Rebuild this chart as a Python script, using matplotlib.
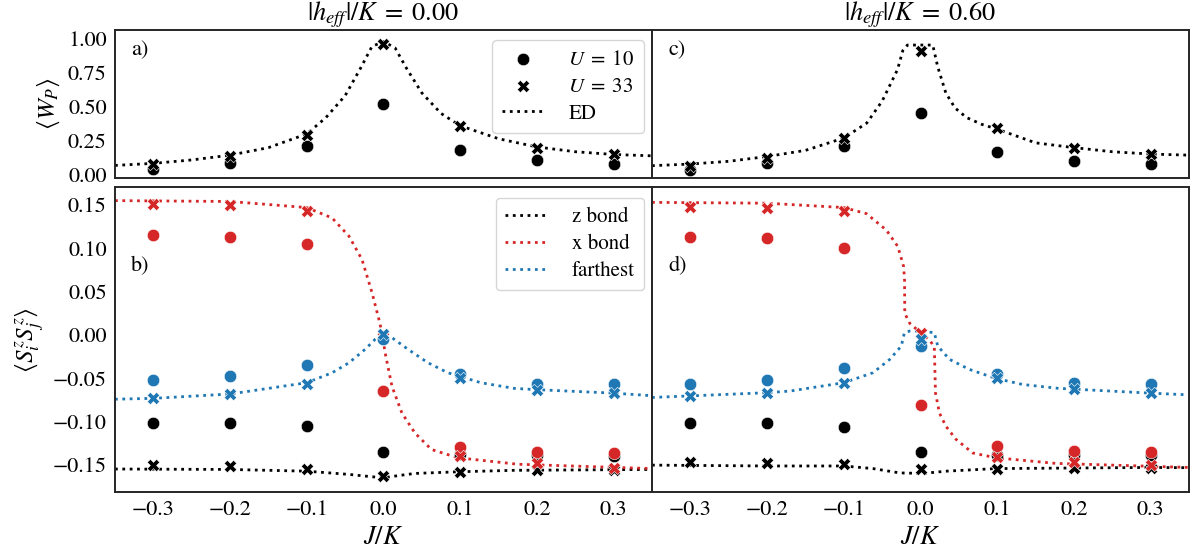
import numpy as np
import matplotlib
matplotlib.use("Agg")
import matplotlib.pyplot as plt

plt.rcParams['font.family'] = ['STIXGeneral', 'DejaVu Serif']
plt.rcParams['mathtext.fontset'] = 'stix'

# x positions of the simulated points
J = [-0.3, -0.2, -0.1, 0.0, 0.1, 0.2, 0.3]

# ---- panel a) / c): plaquette flux <W_P>
wp_u10_left = [0.044, 0.09, 0.21, 0.52, 0.18, 0.11, 0.08]
wp_u33_left = [0.08, 0.14, 0.29, 0.96, 0.36, 0.20, 0.15]
ed_wp_left_x = [-0.35, -0.30, -0.25, -0.20, -0.15, -0.10, -0.075, -0.05, -0.03, -0.015, 0.0,
                0.015, 0.03, 0.05, 0.075, 0.10, 0.15, 0.20, 0.25, 0.30, 0.35]
ed_wp_left_y = [0.07, 0.085, 0.11, 0.145, 0.20, 0.30, 0.42, 0.58, 0.78, 0.94, 0.975,
                0.93, 0.78, 0.60, 0.45, 0.36, 0.265, 0.205, 0.17, 0.15, 0.14]

wp_u10_right = [0.04, 0.085, 0.21, 0.455, 0.17, 0.10, 0.078]
wp_u33_right = [0.068, 0.126, 0.27, 0.91, 0.34, 0.20, 0.153]
ed_wp_right_x = [-0.35, -0.30, -0.25, -0.20, -0.15, -0.10, -0.07, -0.05, -0.03, -0.023, -0.017, 0.0,
                 0.016, 0.0225, 0.033, 0.045, 0.06, 0.08, 0.10, 0.15, 0.20, 0.25, 0.30, 0.35]
ed_wp_right_y = [0.068, 0.08, 0.10, 0.135, 0.18, 0.27, 0.38, 0.54, 0.77, 0.91, 0.95, 0.95,
                 0.95, 0.79, 0.60, 0.49, 0.42, 0.37, 0.335, 0.235, 0.20, 0.17, 0.153, 0.145]

# ---- panel b): correlations, |h_eff|/K = 0
z_u10_b = [-0.101, -0.101, -0.105, -0.135, -0.137, -0.138, -0.140]
z_u33_b = [-0.150, -0.151, -0.154, -0.162, -0.158, -0.156, -0.156]
x_u10_b = [0.115, 0.113, 0.105, -0.065, -0.129, -0.135, -0.136]
x_u33_b = [0.151, 0.150, 0.143, -0.002, -0.140, -0.148, -0.153]
f_u10_b = [-0.052, -0.047, -0.035, -0.005, -0.045, -0.056, -0.057]
f_u33_b = [-0.073, -0.068, -0.056, 0.001, -0.050, -0.063, -0.067]

ed_z_b_x = [-0.35, -0.2, -0.1, -0.045, -0.02, 0.0, 0.02, 0.041, 0.097, 0.17, 0.35]
ed_z_b_y = [-0.1545, -0.155, -0.157, -0.1607, -0.163, -0.1646, -0.162, -0.1596, -0.1577, -0.156, -0.155]
ed_x_b_x = [-0.35, -0.2, -0.1, -0.067, -0.045, -0.028, -0.015, -0.006, -0.002, 0.002, 0.011,
            0.024, 0.041, 0.0625, 0.097, 0.175, 0.35]
ed_x_b_y = [0.155, 0.154, 0.147, 0.135, 0.114, 0.087, 0.049, 0.018, 0.003, -0.020, -0.059,
            -0.090, -0.113, -0.132, -0.1415, -0.149, -0.154]
ed_f_b_x = [-0.35, -0.3, -0.2, -0.1, -0.067, -0.045, -0.024, -0.011, 0.0, 0.011, 0.032,
            0.058, 0.084, 0.127, 0.17, 0.2, 0.3, 0.35]
ed_f_b_y = [-0.074, -0.073, -0.068, -0.055, -0.0435, -0.032, -0.0165, -0.005, 0.001, -0.003, -0.0165,
            -0.032, -0.0435, -0.055, -0.0615, -0.063, -0.067, -0.070]

# ---- panel d): correlations, |h_eff|/K = 0.6
z_u10_d = [-0.102, -0.102, -0.106, -0.1346, -0.138, -0.138, -0.138]
z_u33_d = [-0.146, -0.147, -0.149, -0.154, -0.154, -0.153, -0.153]
x_u10_d = [0.113, 0.1115, 0.1007, -0.081, -0.128, -0.1335, -0.1346]
x_u33_d = [0.148, 0.147, 0.143, 0.002, -0.141, -0.146, -0.150]
f_u10_d = [-0.0565, -0.052, -0.0385, -0.0127, -0.0453, -0.055, -0.0565]
f_u33_d = [-0.0704, -0.067, -0.055, -0.005, -0.050, -0.0627, -0.067]

ed_z_d_x = [-0.35, -0.2, -0.1, -0.062, -0.027, 0.003, 0.033, 0.098, 0.3, 0.35]
ed_z_d_y = [-0.150, -0.151, -0.151, -0.154, -0.159, -0.1596, -0.157, -0.154, -0.1527, -0.153]
ed_x_d_x = [-0.35, -0.2, -0.1, -0.0705, -0.0445, -0.0295, -0.022, -0.0208, -0.0205, -0.014, 0.001,
            0.012, 0.018, 0.0195, 0.0247, 0.033, 0.046, 0.068, 0.098, 0.176, 0.35]
ed_x_d_y = [0.153, 0.152, 0.147, 0.140, 0.121, 0.102, 0.079, 0.063, 0.025, 0.0135, 0.002,
            -0.006, -0.0135, -0.0665, -0.090, -0.105, -0.120, -0.136, -0.1415, -0.148, -0.1527]
ed_f_d_x = [-0.35, -0.2, -0.17, -0.1, -0.062, -0.040, -0.025, -0.021, -0.014, 0.0, 0.018,
            0.0225, 0.0377, 0.0636, 0.098, 0.133, 0.18, 0.3, 0.35]
ed_f_d_y = [-0.072, -0.0665, -0.0646, -0.055, -0.0435, -0.028, -0.0127, 0.0027, 0.0046, 0.0046, 0.0027,
            -0.0127, -0.028, -0.0396, -0.050, -0.057, -0.0615, -0.067, -0.069]

titles = [r'$|h_{eff}|/K\;=\;0.00$', r'$|h_{eff}|/K\;=\;0.60$']
red = '#d62728'
blue = '#1f77b4'

fig = plt.figure(figsize=(11.92, 5.59), dpi=100)
W, H = 1192.0, 559.0


def rect(x0, y0, x1, y1):
    # pixel box -> figure fraction
    return [x0 / W, 1 - y1 / H, (x1 - x0) / W, (y1 - y0) / H]


ax_a = fig.add_axes(rect(115, 30, 652, 178))
ax_c = fig.add_axes(rect(652, 30, 1189, 178))
ax_b = fig.add_axes(rect(115, 187, 652, 492))
ax_d = fig.add_axes(rect(652, 187, 1189, 492))


def points(ax, y10, y33, c):
    ax.scatter(J, y10, s=80, marker='o', color=c, edgecolors='white', linewidths=0.4, zorder=3)
    ax.scatter(J, y33, s=80, marker='X', color=c, edgecolors='white', linewidths=0.4, zorder=3)


# top row
for ax, u10, u33, ex, ey in [(ax_a, wp_u10_left, wp_u33_left, ed_wp_left_x, ed_wp_left_y),
                             (ax_c, wp_u10_right, wp_u33_right, ed_wp_right_x, ed_wp_right_y)]:
    ax.scatter(J, u10, s=80, marker='o', color='black', edgecolors='white', linewidths=0.4,
               zorder=3, label=r'$U\;=\;10$')
    ax.scatter(J, u33, s=80, marker='X', color='black', edgecolors='white', linewidths=0.4,
               zorder=3, label=r'$U\;=\;33$')
    ax.plot(ex, ey, ':', color='black', lw=2, label='ED')
    ax.set_ylim(-0.022, 1.06)

# bottom row
for ax, data in [(ax_b, [(z_u10_b, z_u33_b, ed_z_b_x, ed_z_b_y, 'black', 'z bond'),
                         (x_u10_b, x_u33_b, ed_x_b_x, ed_x_b_y, red, 'x bond'),
                         (f_u10_b, f_u33_b, ed_f_b_x, ed_f_b_y, blue, 'farthest')]),
                 (ax_d, [(z_u10_d, z_u33_d, ed_z_d_x, ed_z_d_y, 'black', 'z bond'),
                         (x_u10_d, x_u33_d, ed_x_d_x, ed_x_d_y, red, 'x bond'),
                         (f_u10_d, f_u33_d, ed_f_d_x, ed_f_d_y, blue, 'farthest')])]:
    for y10, y33, ex, ey, c, lab in data:
        points(ax, y10, y33, c)
        ax.plot(ex, ey, ':', color=c, lw=2, label=lab)
    ax.set_ylim(-0.181, 0.1707)


def fmt(nd):
    return plt.FuncFormatter(lambda v, p: ('%.*f' % (nd, v)).replace('-', '\u2212'))


for ax in [ax_a, ax_b, ax_c, ax_d]:
    ax.set_xlim(-0.35, 0.35)
    ax.set_xticks([-0.3, -0.2, -0.1, 0.0, 0.1, 0.2, 0.3])
    ax.tick_params(length=0, labelsize=16, pad=6)
    for s in ax.spines.values():
        s.set_linewidth(1.4)
        s.set_color('0.15')

ax_a.set_yticks([0.0, 0.25, 0.5, 0.75, 1.0])
ax_c.set_yticks([0.0, 0.25, 0.5, 0.75, 1.0])
ax_b.set_yticks([-0.15, -0.10, -0.05, 0.0, 0.05, 0.10, 0.15])
ax_d.set_yticks([-0.15, -0.10, -0.05, 0.0, 0.05, 0.10, 0.15])
ax_a.yaxis.set_major_formatter(fmt(2))
ax_b.yaxis.set_major_formatter(fmt(2))
ax_b.xaxis.set_major_formatter(fmt(1))
ax_d.xaxis.set_major_formatter(fmt(1))
for ax in [ax_a, ax_c]:
    ax.tick_params(labelbottom=False)
for ax in [ax_c, ax_d]:
    ax.tick_params(labelleft=False)

ax_a.set_title(titles[0], fontsize=19, pad=4)
ax_c.set_title(titles[1], fontsize=19, pad=4)
ax_a.set_ylabel(r'$\langle W_P \rangle$', fontsize=18, labelpad=4)
ax_b.set_ylabel(r'$\langle S_i^z S_j^z \rangle$', fontsize=18, labelpad=4)
ax_b.set_xlabel(r'$J/K$', fontsize=19, labelpad=4)
ax_d.set_xlabel(r'$J/K$', fontsize=19, labelpad=4)

for ax, lab, yy in [(ax_a, 'a)', 0.865), (ax_c, 'c)', 0.865), (ax_b, 'b)', 0.74), (ax_d, 'd)', 0.74)]:
    ax.text(0.03, yy, lab, transform=ax.transAxes, fontsize=16, va='center', ha='left')

ax_a.legend(loc='upper right', fontsize=15, bbox_to_anchor=(0.985, 0.93), borderaxespad=0,
            labelspacing=0.35, handletextpad=1.2, borderpad=0.45)
ax_b.legend(loc='upper right', fontsize=15, bbox_to_anchor=(0.985, 0.965), borderaxespad=0,
            labelspacing=0.35, handletextpad=1.2, borderpad=0.45)

fig.savefig('out.png', dpi=100)
